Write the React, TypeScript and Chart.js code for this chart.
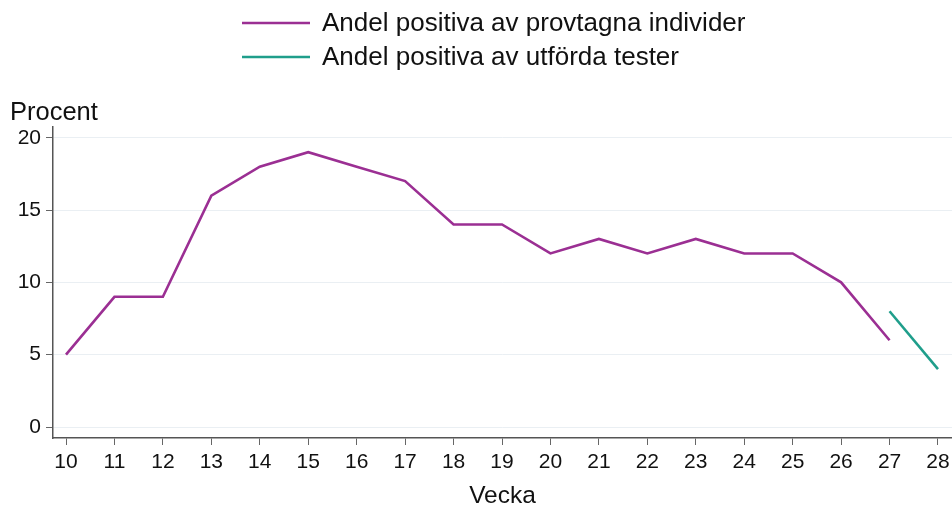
import React, { useEffect, useRef } from "react";
import { Chart, registerables } from "chart.js";

Chart.register(...registerables);

const weeks = [10, 11, 12, 13, 14, 15, 16, 17, 18, 19, 20, 21, 22, 23, 24, 25, 26, 27, 28];
const individerValues: (number | null)[] = [5, 9, 9, 16, 18, 19, 18, 17, 14, 14, 12, 13, 12, 13, 12, 12, 10, 6, null];
const testerValues: (number | null)[] = [null, null, null, null, null, null, null, null, null, null, null, null, null, null, null, null, null, 8, 4];
const yTicks = [0, 5, 10, 15, 20];
const seriesLabels = ["Andel positiva av provtagna individer", "Andel positiva av utförda tester"];
const seriesColors = ["#9b2f93", "#1f9e8b"];

const FONT = "'Liberation Sans', Arial, sans-serif";

const overlayPlugin = {
  id: "overlay",
  afterDraw(chart: any) {
    const ctx = chart.ctx;
    ctx.save();
    // legend
    const rows = [23, 57];
    seriesLabels.forEach((lab, i) => {
      ctx.strokeStyle = seriesColors[i];
      ctx.lineWidth = 2.5;
      ctx.beginPath();
      ctx.moveTo(242, rows[i]);
      ctx.lineTo(310, rows[i]);
      ctx.stroke();
      ctx.fillStyle = "#111";
      ctx.font = `26px ${FONT}`;
      ctx.textBaseline = "middle";
      ctx.textAlign = "left";
      ctx.fillText(lab, 322, rows[i] + 1);
    });
    // y title
    ctx.font = `25.5px ${FONT}`;
    ctx.textBaseline = "alphabetic";
    ctx.textAlign = "left";
    ctx.fillStyle = "#111";
    ctx.fillText("Procent", 10, 120);
    ctx.restore();
  },
};

export default function App() {
  const ref = useRef<HTMLCanvasElement>(null);
  useEffect(() => {
    document.body.style.margin = "0";
    const chart = new Chart(ref.current!, {
      type: "line",
      data: {
        datasets: [
          {
            label: seriesLabels[0],
            data: weeks.map((w, i) => ({ x: w, y: individerValues[i] })) as any,
            borderColor: seriesColors[0],
            borderWidth: 2.6,
            pointRadius: 0,
            spanGaps: false,
            tension: 0,
          },
          {
            label: seriesLabels[1],
            data: weeks.map((w, i) => ({ x: w, y: testerValues[i] })) as any,
            borderColor: seriesColors[1],
            borderWidth: 2.6,
            pointRadius: 0,
            spanGaps: false,
            tension: 0,
          },
        ],
      },
      options: {
        animation: false,
        responsive: false,
        layout: { padding: { top: 127, left: 0, right: 0, bottom: 0 } },
        plugins: { legend: { display: false }, tooltip: { enabled: false } },
        scales: {
          x: {
            type: "linear",
            min: 9.7316,
            max: 28.289,
            afterBuildTicks: (s: any) => {
              s.ticks = weeks.map((v) => ({ value: v }));
            },
            afterFit: (s: any) => {
              s.height = 73;
              s.paddingLeft = 0;
              s.paddingRight = 0;
            },
            ticks: {
              font: { family: FONT, size: 21 },
              color: "#111",
              padding: 5,
              maxRotation: 0,
              autoSkip: false,
              callback: (v: any) => String(v),
            },
            grid: {
              drawOnChartArea: false,
              drawTicks: true,
              tickLength: 7,
              tickColor: "#666",
            },
            border: { color: "#555", width: 1.5 },
            title: {
              display: true,
              text: "Vecka",
              font: { family: FONT, size: 24.5 },
              color: "#111",
              padding: { top: 5, bottom: 0 },
            },
          },
          y: {
            type: "linear",
            min: -0.76,
            max: 20.74,
            afterBuildTicks: (s: any) => {
              s.ticks = yTicks.map((v) => ({ value: v }));
            },
            afterFit: (s: any) => {
              s.width = 53;
              s.paddingTop = 0;
              s.paddingBottom = 0;
            },
            ticks: {
              font: { family: FONT, size: 21 },
              color: "#111",
              padding: 5,
            },
            grid: {
              color: "#eaeff3",
              lineWidth: 1,
              drawTicks: true,
              tickLength: 7,
              tickColor: "#666",
            },
            border: { color: "#555", width: 1.5 },
          },
        },
      },
      plugins: [overlayPlugin],
    });
    return () => chart.destroy();
  }, []);
  return (
    <canvas
      ref={ref}
      width={952}
      height={511}
      style={{ position: "absolute", left: 0, top: 0, display: "block" }}
    />
  );
}
